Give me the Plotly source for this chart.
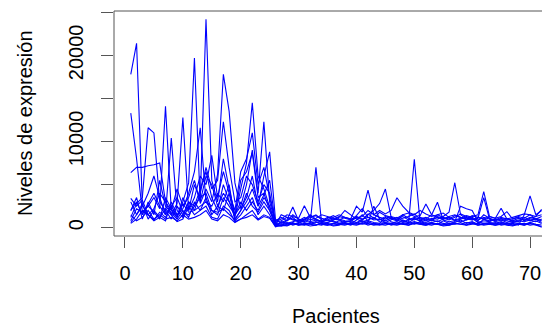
import plotly.graph_objects as go

patients = list(range(1, 73))

s1 = [17800, 21400, 2600, 1500, 900, 1800, 1200, 2500, 1400, 3000, 5200, 19700,
      2800, 4500, 3000, 6200, 17800, 13500, 5200, 2200, 3500, 6000, 2500, 3800,
      5500, 400, 300, 500, 400, 600, 350, 500, 700, 400, 300, 500,
      800, 600, 400, 900, 1500, 800, 600, 500, 1200, 700, 500, 900,
      600, 400, 700, 500, 600, 400, 800, 500, 600, 900, 500, 700,
      400, 1000, 600, 500, 700, 400, 600, 500, 300, 600, 800, 500]
s2 = [13300, 8000, 1800, 2500, 3500, 2200, 14100, 2000, 1200, 3500, 2000, 5000,
      3200, 24200, 5500, 3000, 8000, 4500, 1500, 2500, 5000, 9000, 4000, 12300,
      3000, 600, 800, 1200, 900, 700, 1000, 1300, 900, 600, 1100, 1400,
      1000, 800, 700, 1200, 900, 1600, 1100, 900, 1300, 1000, 800, 1500,
      1100, 900, 1200, 1000, 800, 1300, 1100, 900, 1200, 1600, 1300, 1000,
      900, 1200, 1000, 800, 1100, 900, 1000, 1300, 1100, 1500, 1000, 1300]
s3 = [2000, 3000, 1500, 2800, 4000, 2500, 1500, 10400, 2000, 1200, 3000, 2500,
      4500, 6500, 3500, 2000, 5000, 3000, 1200, 4500, 7500, 14500, 6000, 4500,
      2500, 300, 200, 300, 500, 300, 400, 200, 300, 500, 400, 200,
      300, 600, 400, 300, 500, 700, 400, 300, 500, 400, 300, 500,
      300, 600, 400, 300, 500, 400, 200, 300, 500, 400, 300, 600,
      300, 500, 400, 300, 500, 300, 200, 400, 300, 500, 300, 100]
s4 = [3400, 2500, 3200, 1500, 2200, 4000, 3000, 1500, 2800, 12800, 2000, 3500,
      6000, 5000, 8400, 3500, 6500, 4000, 2000, 6500, 8000, 11000, 5000, 7000,
      3500, 800, 1200, 800, 1500, 1000, 700, 1200, 1500, 900, 800, 1000,
      1300, 1100, 900, 1400, 2200, 1200, 1000, 1800, 1400, 1200, 900, 1100,
      1300, 1600, 1000, 1200, 900, 1500, 1700, 1200, 900, 1100, 1400, 1200,
      800, 1500, 1100, 900, 1200, 1000, 800, 1100, 900, 1200, 1000, 800]
s5 = [600, 1500, 2800, 1000, 2000, 1200, 800, 3000, 1500, 2200, 4000, 6500,
      11600, 3000, 2500, 4000, 3000, 5000, 1000, 2000, 3000, 4500, 2500, 6000,
      8800, 1000, 500, 800, 1200, 600, 900, 1500, 1000, 700, 600, 900,
      1200, 2000, 1500, 1000, 700, 900, 1200, 700, 600, 900, 1200, 800,
      600, 1000, 800, 600, 900, 700, 1000, 1200, 800, 700, 900, 1100,
      600, 800, 700, 1000, 900, 600, 800, 700, 1200, 900, 700, 1000]
s6 = [1200, 2800, 3500, 11600, 11000, 3000, 2000, 1000, 2500, 1500, 3000, 2000,
      4000, 7000, 4500, 5500, 12300, 7000, 3000, 3500, 6000, 5000, 3000, 5000,
      4000, 500, 400, 600, 300, 500, 800, 600, 400, 300, 600, 800,
      500, 400, 600, 500, 800, 600, 2500, 1000, 600, 500, 700, 400,
      500, 700, 500, 400, 600, 800, 500, 400, 700, 2500, 2200, 2000,
      700, 500, 600, 400, 600, 500, 300, 500, 400, 600, 400, 300]
s7 = [6400, 7000, 7000, 7200, 7300, 7500, 3000, 2000, 4500, 2500, 3500, 5500,
      3000, 6000, 5000, 2500, 4000, 3000, 1500, 5500, 6500, 8700, 3500, 4000,
      2000, 700, 1000, 1500, 1300, 1100, 2550, 1200, 1400, 1100, 900, 1200,
      1500, 1200, 1000, 1100, 1300, 2000, 1500, 1200, 1000, 1300, 1100, 1500,
      1700, 1300, 1400, 2750, 1500, 1200, 1000, 1300, 1500, 1200, 1000, 1400,
      1200, 1000, 1300, 1100, 2250, 1000, 1200, 1400, 1600, 1500, 1300, 1500]
s8 = [2000, 3500, 1000, 3000, 1500, 5500, 2500, 1800, 1000, 2000, 1200, 3000,
      2000, 3500, 1500, 2500, 2000, 4000, 800, 1500, 2500, 3500, 1500, 2500,
      1500, 200, 600, 900, 2400, 800, 1000, 700, 900, 800, 1200, 1000,
      900, 700, 800, 1300, 1000, 1200, 900, 1000, 800, 1100, 1000, 1300,
      900, 1200, 1000, 800, 1100, 1000, 1300, 1800, 5220, 1500, 1000, 900,
      1200, 1000, 800, 1000, 900, 1100, 700, 900, 1000, 800, 1100, 900]
s9 = [500, 1000, 2000, 1500, 800, 1200, 2200, 1500, 700, 1000, 2500, 1500,
      2000, 2500, 1200, 1000, 2500, 2000, 700, 1000, 1500, 2000, 1000, 1500,
      1200, 100, 300, 200, 500, 400, 300, 500, 7000, 400, 300, 500,
      400, 300, 500, 400, 600, 300, 500, 400, 300, 500, 400, 600,
      500, 7940, 600, 400, 300, 500, 400, 300, 500, 400, 600, 500,
      300, 400, 500, 300, 400, 500, 300, 400, 500, 300, 400, 50]
s10 = [3000, 1500, 2500, 4000, 6000, 3500, 1500, 2500, 3500, 1800, 1500, 2500,
       3500, 4000, 2000, 1500, 3500, 2500, 1500, 3000, 2000, 3000, 2000, 3500,
       2500, 300, 1500, 1200, 1000, 800, 1200, 900, 1100, 1500, 1300, 1100,
       900, 1200, 1000, 2500, 1800, 4370, 1500, 2000, 1600, 2000, 3480, 2500,
       1800, 1500, 2000, 1600, 1300, 1500, 1200, 1000, 1400, 1200, 900, 1300,
       1500, 4180, 1300, 1100, 1300, 1860, 1000, 1200, 800, 1100, 1300, 2130]
s11 = [1500, 800, 1200, 2000, 1000, 1500, 1000, 1200, 800, 1500, 1000, 1200,
       1500, 2000, 1000, 800, 1500, 1200, 600, 1000, 1200, 1500, 900, 1300,
       1100, 200, 700, 500, 700, 900, 600, 400, 600, 700, 900, 700,
       500, 700, 800, 600, 900, 1500, 2000, 2800, 4490, 1200, 900, 700,
       900, 1100, 800, 1000, 1500, 2950, 900, 700, 800, 1000, 1200, 900,
       1100, 3500, 1000, 700, 900, 800, 600, 800, 700, 900, 1000, 600]
s12 = [800, 2200, 1800, 2500, 1800, 1000, 3500, 2200, 1200, 2800, 1800, 2000,
       2500, 3000, 2000, 1800, 2200, 1500, 900, 2000, 4000, 2500, 1800, 3000,
       2000, 200, 200, 400, 600, 300, 500, 400, 300, 600, 500, 300,
       400, 500, 300, 600, 400, 500, 300, 400, 600, 300, 500, 400,
       300, 500, 400, 300, 500, 400, 300, 500, 400, 600, 300, 400,
       500, 300, 400, 600, 300, 400, 500, 300, 1500, 3700, 1500, 2000]

genes = [s1, s2, s3, s4, s5, s6, s7, s8, s9, s10, s11, s12]

x_ticks = [0, 10, 20, 30, 40, 50, 60, 70]
y_ticks = [0, 5000, 10000, 15000, 20000, 25000]
y_tick_text = ["0", "", "10000", "", "20000", ""]

FONT = "Liberation Sans, Arial, Helvetica, sans-serif"
AX = "#555555"

fig = go.Figure()
for g in genes:
    fig.add_trace(go.Scatter(x=patients, y=g, mode="lines",
                             line=dict(color="#0000FF", width=1.1),
                             showlegend=False, hoverinfo="skip"))

fig.update_layout(
    width=542, height=321,
    margin=dict(l=106, r=0, t=3, b=93, autoexpand=False),
    plot_bgcolor="white", paper_bgcolor="white",
    font=dict(family=FONT, size=20, color="#000000"),
    xaxis=dict(range=[-1.9, 73.45], tickvals=x_ticks, ticks="outside",
               ticklen=11, tickwidth=1, tickcolor=AX, showgrid=False,
               zeroline=False, showline=False, ticklabelstandoff=8,
               automargin=False, tickfont=dict(size=20)),
    yaxis=dict(range=[-963, 25151], tickvals=y_ticks, ticktext=y_tick_text,
               ticks="outside", ticklen=12, tickwidth=1, tickcolor=AX,
               showgrid=False, zeroline=False, showline=False,
               automargin=False,
               tickangle=-90, ticklabelstandoff=10, tickfont=dict(size=20)),
    shapes=[
        dict(type="line", xref="paper", yref="paper", x0=0, x1=0, y0=0, y1=1,
             line=dict(color=AX, width=1)),
        dict(type="line", xref="paper", yref="paper", x0=0, x1=1, y0=1, y1=1,
             line=dict(color=AX, width=1)),
        dict(type="line", xref="paper", yref="paper", x0=0, x1=1, y0=0, y1=0,
             line=dict(color=AX, width=1)),
    ],
    annotations=[
        dict(text="Pacientes", xref="paper", yref="paper", x=0.509, y=-0.355,
             xanchor="center", yanchor="middle", showarrow=False,
             font=dict(size=20, family=FONT)),
        dict(text="Niveles de expresión", xref="paper", yref="paper",
             x=-0.205, y=0.5, xanchor="center", yanchor="middle",
             textangle=-90, showarrow=False, font=dict(size=20, family=FONT)),
    ],
)

fig.write_html("out.html")
